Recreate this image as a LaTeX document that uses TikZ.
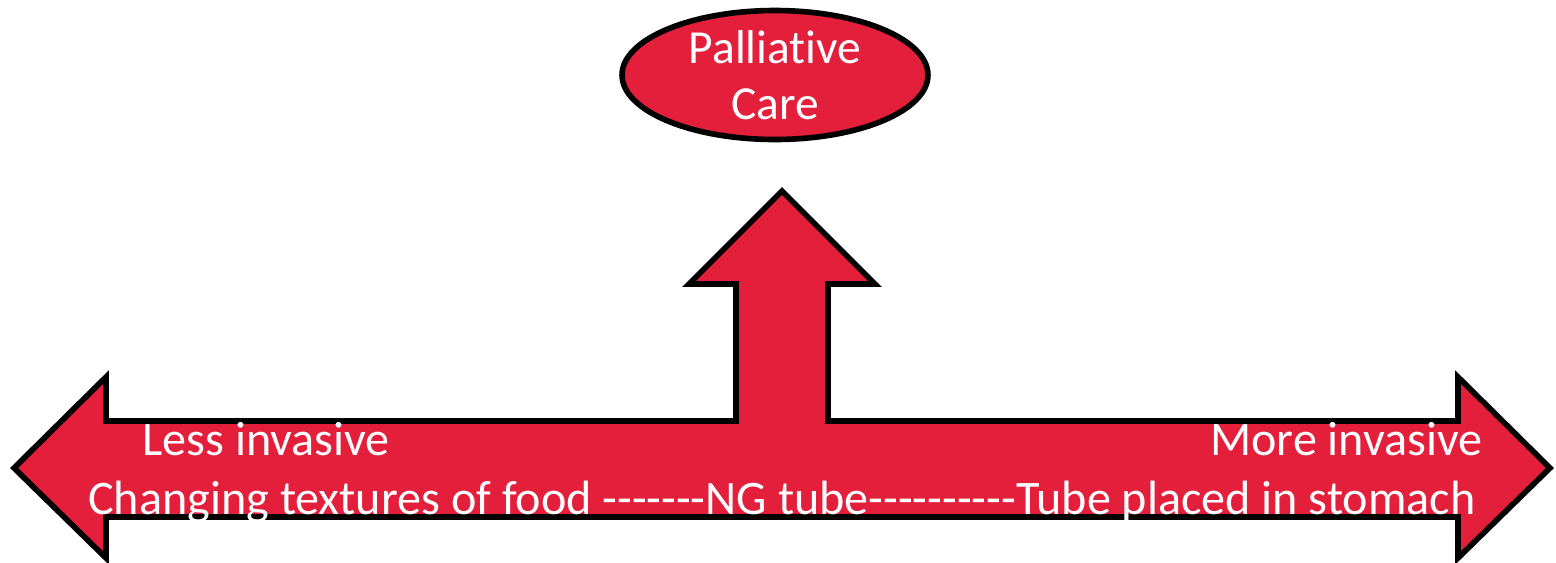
\documentclass[tikz,border=0pt]{standalone}
\usepackage{fontspec}
\setmainfont{Carlito}[Ligatures={TeXOff,CommonOff}]
\usetikzlibrary{shapes.geometric,positioning}
\definecolor{c1}{RGB}{228,31,59}

\begin{document}
\begin{tikzpicture}[
        x=0.02cm, y=-0.02cm,
        blob/.style={ellipse, draw, line width=3.2pt, fill=c1, minimum width=6.12cm, minimum height=2.58cm, inner sep=0pt, text=white, font=\fontsize{27}{32}\selectfont, align=center},
        lbl/.style={text=white, font=\fontsize{27.4}{32}\selectfont, inner sep=0pt},
    ]
        \useasboundingbox (0, 0) rectangle (1556, 562);

        % Three-way arrow (left, right and up)
        \draw[line width=3.2pt, fill=c1, line join=miter]
            (14, 468) -- (106, 377) -- (106, 421) -- (736, 421) -- (736, 284)
            -- (689, 284) -- (782, 191) -- (875, 284) -- (828, 284) -- (828, 421)
            -- (1458, 421) -- (1458, 377) -- (1550, 468) -- (1458, 558) -- (1458, 517)
            -- (106, 517) -- (106, 558) -- cycle;

        % Goal at the top
        \node[blob] (CARE) at (775, 75) {Palliative\\Care};

        % Labels on the arrow
        \node[lbl, anchor=base west] (LESS) at (142, 455) {Less invasive};
        \node[lbl, anchor=base east] (MORE) at (1483, 455) {More invasive};
        \node[lbl, anchor=base] (SCALE) at (782, 514) {Changing textures of food -------NG tube----------Tube placed in stomach};
    \end{tikzpicture}
\end{document}
